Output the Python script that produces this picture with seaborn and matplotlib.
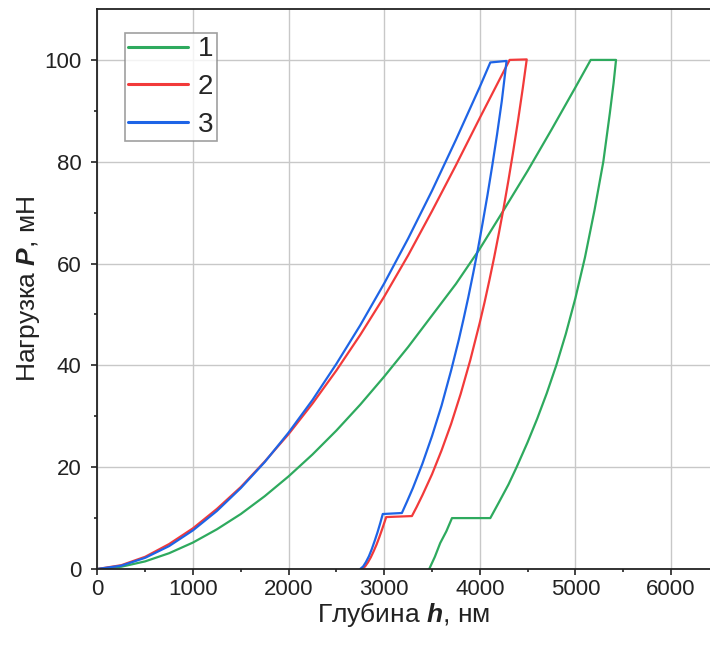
import matplotlib
matplotlib.use("Agg")
import matplotlib.pyplot as plt
import seaborn as sns
import pandas as pd

# Indentation curves: loading, hold at Pmax, unloading, hold at 10 mN, final unloading
h1 = [0, 250, 500, 750, 1000, 1250, 1500, 1750, 2000, 2250, 2500, 2750, 3000,
      3250, 3500, 3750, 4000, 4250, 4500, 4750, 5000, 5160,
      5425, 5400, 5360, 5292, 5200, 5100, 5000, 4900, 4800, 4700, 4600, 4500,
      4385, 4300, 4200, 4110,
      3709, 3650, 3586, 3530, 3471]
p1 = [0, 0.45, 1.5, 3.1, 5.2, 7.8, 10.8, 14.3, 18.2, 22.5, 27.2, 32.3, 37.8,
      43.6, 49.8, 56.0, 62.9, 70.5, 78.2, 86.3, 94.6, 100.0,
      100.0, 95.5, 89.5, 80.0, 70.5, 61.2, 53.2, 46.2, 40.0, 34.5, 29.5, 24.9,
      20.0, 16.6, 13.1, 10.0,
      10.0, 7.4, 5.1, 2.4, 0]

h2 = [0, 250, 500, 750, 1000, 1250, 1500, 1750, 2000, 2250, 2500, 2750, 3000,
      3250, 3500, 3750, 4000, 4312,
      4491, 4450, 4400, 4350, 4300, 4250, 4200, 4150, 4100, 4050, 4000, 3900,
      3800, 3700, 3600, 3500, 3400, 3340, 3290,
      3021, 2980, 2950, 2920, 2890, 2860, 2830, 2800, 2766]
p2 = [0, 0.75, 2.4, 4.9, 8.0, 11.8, 16.1, 21.1, 26.5, 32.5, 39.0, 46.0, 53.5,
      61.6, 70.3, 79.3, 88.6, 100.0,
      100.1, 94.5, 88.1, 82.1, 76.4, 71.0, 66.0, 61.2, 56.7, 52.4, 48.4, 41.0,
      34.4, 28.5, 23.3, 18.6, 14.5, 12.2, 10.4,
      10.2, 7.9, 6.3, 4.8, 3.5, 2.3, 1.3, 0.5, 0]

h3 = [0, 250, 500, 750, 1000, 1250, 1500, 1750, 2000, 2250, 2500, 2750, 3000,
      3250, 3500, 3750, 4000, 4110,
      4280, 4230, 4180, 4130, 4080, 4030, 3980, 3930, 3880, 3830, 3780, 3700,
      3600, 3500, 3400, 3300, 3240, 3185,
      2985, 2960, 2930, 2900, 2870, 2840, 2810, 2780, 2749]
p3 = [0, 0.65, 2.2, 4.5, 7.6, 11.4, 15.9, 21.0, 26.8, 33.2, 40.3, 47.9, 56.1,
      64.9, 74.3, 84.3, 94.7, 99.5,
      99.8, 91.9, 85.3, 79.2, 73.4, 68.0, 62.8, 58.0, 53.4, 49.1, 45.0, 39.0,
      32.1, 26.1, 20.7, 15.9, 13.3, 11.0,
      10.8, 9.1, 7.2, 5.5, 3.9, 2.5, 1.4, 0.5, 0]

samples = ["1", "2", "3"]
colors = ["#2EAA5E", "#F23A3A", "#1E64E6"]

frames = []
for name, hs, ps in zip(samples, [h1, h2, h3], [p1, p2, p3]):
    frames.append(pd.DataFrame({"h": hs, "P": ps, "sample": name}))
df = pd.concat(frames, ignore_index=True)

sns.set_theme(style="white")
plt.rcParams["font.family"] = ["Liberation Sans", "DejaVu Sans"]
plt.rcParams["mathtext.fontset"] = "custom"
plt.rcParams["mathtext.it"] = "Liberation Sans:italic:bold"
plt.rcParams["mathtext.rm"] = "Liberation Sans"

W, H = 710, 646
fig = plt.figure(figsize=(W / 100, H / 100), dpi=100)
ax = fig.add_axes([97.4 / W, 1 - 569 / H, (W - 97.4) / W, (569 - 9) / H])

sns.lineplot(data=df, x="h", y="P", hue="sample", palette=colors,
             hue_order=samples, sort=False, estimator=None, units="sample",
             linewidth=1.6, ax=ax, legend=True)

ax.set_xlim(0, 6408)
ax.set_ylim(0, 110)
ax.set_xticks([0, 1000, 2000, 3000, 4000, 5000, 6000])
ax.set_xticks([500, 1500, 2500, 3500, 4500, 5500], minor=True)
ax.set_yticks([0, 20, 40, 60, 80, 100])
ax.set_yticks([10, 30, 50, 70, 90], minor=True)
ax.grid(True, which="major", color="#c8c8c8", linewidth=1.0)
ax.set_axisbelow(True)

for side in ["left", "bottom", "top"]:
    ax.spines[side].set_visible(True)
    ax.spines[side].set_color("#222222")
    ax.spines[side].set_linewidth(1.3)
ax.spines["right"].set_visible(False)

ax.tick_params(axis="both", which="major", direction="out", length=4.5,
               width=1.2, color="#222222", labelsize=16, labelcolor="#222222",
               bottom=True, left=True, top=False, right=False)
ax.tick_params(axis="x", which="major", pad=3)
ax.tick_params(axis="y", which="major", pad=7)
ax.tick_params(axis="both", which="minor", direction="out", length=2.5,
               width=1.2, color="#222222", bottom=True, left=True,
               top=False, right=False)

ax.set_xlabel("Глубина $h$, нм", fontsize=19, color="#222222", labelpad=0)
ax.set_ylabel("Нагрузка $P$, мН", fontsize=19, color="#222222", labelpad=1.5)

leg = ax.legend(loc="upper left", bbox_to_anchor=(0.045, 0.957),
                borderaxespad=0, fontsize=20, handlelength=2.15,
                handletextpad=0.35, labelspacing=0.42, borderpad=0.12,
                frameon=True, fancybox=False, title=None)
leg.get_frame().set_edgecolor("#888888")
leg.get_frame().set_linewidth(1.2)
for line in leg.get_lines():
    line.set_linewidth(2.2)

fig.savefig("out.png", dpi=100)
